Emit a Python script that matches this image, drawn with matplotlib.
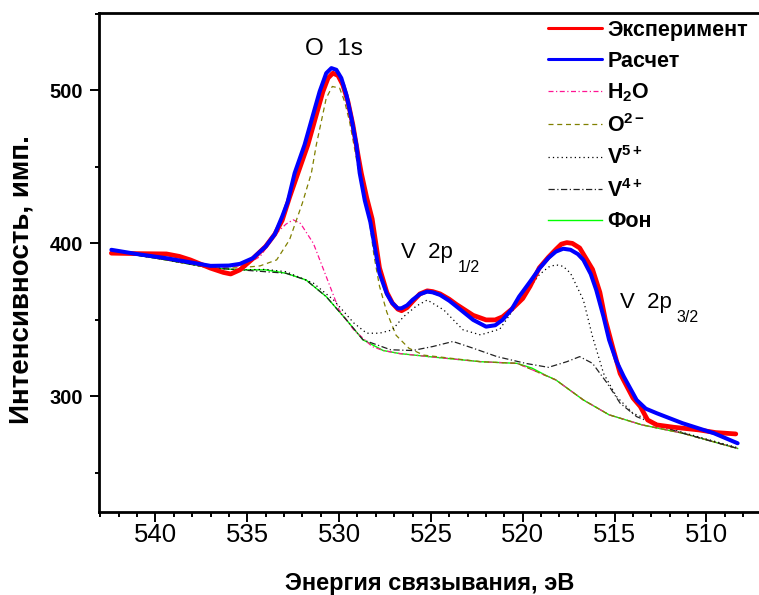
import matplotlib
matplotlib.use('Agg')
import matplotlib.pyplot as plt
from matplotlib.ticker import MultipleLocator

# ============================================================
# Data
# ============================================================

# Experiment (red)
exp_e = [542.4, 541.0, 539.4, 538.7, 538.1, 537.0, 536.3, 535.9, 535.4, 534.7,
         534.0, 533.5, 533.1, 532.7, 532.24, 531.7, 531.24, 530.88, 530.6, 530.34,
         530.06, 529.8, 529.52, 529.25, 528.97, 528.79, 528.5, 528.2, 527.8, 527.4,
         527.1, 526.8, 526.6, 526.3, 526.0, 525.6, 525.2, 524.9, 524.5, 524.0,
         523.6, 522.7, 522.0, 521.5, 521.1, 520.6, 520.0, 519.6, 519.1, 518.6,
         518.2, 517.9, 517.6, 517.3, 516.9, 516.6, 516.2, 515.8, 515.5, 515.1,
         514.7, 514.0, 513.6, 513.2, 512.7, 511.8, 510.4, 509.5, 508.4]
exp_i = [393.6, 393.3, 393.1, 391.5, 389.2, 383.8, 381.0, 380.0, 382.7, 390.0,
         398.0, 406.0, 415.0, 430.0, 445.9, 464.4, 484.0, 499.2, 508.0, 511.2,
         509.7, 503.6, 492.7, 477.5, 457.8, 445.9, 430.0, 416.0, 384.0, 368.0,
         361.0, 357.0, 356.0, 358.0, 362.0, 367.0, 369.0, 368.5, 367.0, 363.5,
         360.0, 353.0, 350.0, 350.0, 352.0, 357.0, 364.0, 372.0, 384.0, 391.0,
         396.0, 399.5, 400.5, 400.0, 397.0, 391.0, 383.0, 368.0, 350.0, 332.0,
         315.0, 299.0, 293.4, 284.6, 281.4, 279.9, 278.1, 276.4, 275.5]

# Fit (blue)
fit_e = [542.4, 541.0, 539.4, 537.0, 536.0, 535.4, 534.7, 534.0, 533.5, 533.1,
         532.8, 532.42, 531.88, 531.42, 531.06, 530.7, 530.42, 530.15, 529.88, 529.6,
         529.33, 529.06, 528.88, 528.6, 528.3, 527.8, 527.4, 527.1, 526.8, 526.6,
         526.3, 526.0, 525.6, 525.2, 524.9, 524.5, 524.0, 523.6, 522.7, 522.0,
         521.5, 521.1, 520.6, 520.2, 519.6, 519.1, 518.6, 518.2, 517.8, 517.4,
         517.0, 516.7, 516.3, 516.0, 515.6, 515.3, 514.9, 514.5, 513.8, 513.3,
         512.7, 511.3, 509.6, 508.3]
fit_i = [395.8, 393.0, 390.3, 385.3, 385.5, 386.6, 390.3, 397.9, 406.0, 417.5,
         427.0, 445.9, 464.4, 484.0, 499.2, 511.2, 514.5, 513.4, 508.0, 497.0,
         481.8, 464.4, 446.0, 428.0, 414.0, 380.5, 367.0, 360.9, 357.5, 357.6,
         359.5, 363.1, 366.8, 368.5, 368.0, 366.3, 362.5, 358.7, 350.0, 345.6,
         346.5, 350.0, 357.0, 365.2, 375.0, 383.5, 390.5, 394.6, 396.5, 395.8,
         393.0, 389.2, 380.0, 369.6, 352.0, 337.0, 323.0, 313.0, 297.7, 292.0,
         289.0, 282.5, 276.0, 269.4]

# H2O component
h2o_e = [542.4, 539.4, 537.0, 535.2, 534.3, 533.4, 532.9, 532.5, 532.1, 531.4,
         530.7, 530.0, 529.2, 528.2, 527.6, 526.7, 525.1, 522.3, 520.3, 518.2,
         516.7, 515.3, 513.5, 511.3, 508.3]
h2o_i = [395.0, 389.2, 384.0, 385.3, 391.4, 406.7, 412.5, 415.4, 413.0, 400.0,
         378.3, 356.5, 343.5, 332.6, 330.0, 328.0, 326.0, 322.7, 321.6, 310.8,
         297.7, 288.0, 281.4, 276.0, 266.0]

# O2- component
o2_e = [542.4, 539.4, 537.0, 535.4, 534.3, 533.4, 532.7, 532.0, 531.51, 531.24,
        530.97, 530.7, 530.37, 529.97, 529.7, 529.43, 529.16, 528.97, 528.5, 528.1,
        527.8, 527.4, 526.9, 526.2, 525.4, 522.3, 520.3, 518.2, 516.7, 515.3,
        513.5, 511.3, 508.3]
o2_i = [395.0, 389.2, 384.0, 384.0, 385.3, 389.2, 402.3, 426.3, 445.9, 464.4,
        479.6, 494.9, 502.5, 501.4, 492.7, 479.6, 462.2, 449.2, 428.0, 392.0,
        372.0, 355.0, 340.0, 331.5, 327.0, 322.7, 321.6, 310.8, 297.7, 288.0,
        281.4, 276.0, 266.0]

# V5+ component
v5_e = [542.4, 539.4, 537.0, 535.4, 534.0, 532.9, 531.4, 530.3, 529.2, 528.5,
        527.8, 527.1, 526.5, 525.8, 525.2, 524.3, 523.25, 522.3, 521.25, 520.2,
        519.1, 518.6, 518.2, 517.8, 517.4, 516.7, 516.2, 515.6, 514.9, 514.0,
        512.7, 511.3, 508.3]
v5_i = [395.0, 389.2, 384.0, 382.7, 383.0, 381.5, 374.0, 363.0, 348.0, 341.3,
        341.3, 343.5, 352.0, 359.0, 363.0, 356.5, 343.5, 340.2, 344.0, 362.0,
        379.5, 384.5, 386.0, 385.0, 380.5, 363.0, 339.0, 315.0, 300.0, 289.0,
        282.5, 276.5, 266.5]

# V4+ component
v4_e = [542.4, 539.4, 537.0, 535.4, 532.9, 531.8, 530.7, 529.6, 528.7, 527.2,
        526.0, 524.9, 523.8, 522.7, 521.4, 519.8, 518.6, 517.6, 516.9, 516.2,
        515.4, 514.7, 513.8, 512.7, 511.3, 508.3]
v4_i = [395.0, 389.2, 384.0, 382.7, 380.5, 376.1, 365.2, 350.0, 337.0, 330.5,
        330.0, 332.6, 335.9, 331.5, 326.0, 321.5, 319.0, 322.7, 326.0, 321.6,
        308.6, 295.6, 286.8, 281.4, 276.0, 266.0]

# Background (green)
bg_e = [542.4, 539.4, 537.0, 535.4, 534.0, 532.9, 531.8, 530.7, 529.6, 528.7,
        527.6, 526.7, 525.1, 522.3, 520.3, 519.5, 518.7, 518.2, 516.7, 515.3,
        513.5, 511.3, 508.3]
bg_i = [395.0, 389.2, 384.0, 382.7, 382.7, 380.5, 376.1, 365.2, 350.0, 337.0,
        330.0, 328.0, 326.0, 322.7, 321.6, 318.5, 313.5, 310.8, 297.7, 288.0,
        281.4, 276.0, 266.0]

labels = ['Эксперимент', 'Расчет', r'$\mathbf{H_2O}$', r'$\mathbf{O^{2-}}$',
          r'$\mathbf{V^{5+}}$', r'$\mathbf{V^{4+}}$', 'Фон']

# ============================================================
# Style
# ============================================================
plt.rcParams.update({
    'font.family': 'Liberation Sans',
    'mathtext.fontset': 'custom',
    'mathtext.rm': 'Liberation Sans',
    'mathtext.it': 'Liberation Sans:italic',
    'mathtext.bf': 'Liberation Sans:bold',
    'axes.linewidth': 2.0,
})

fig = plt.figure(figsize=(7.59, 5.95), dpi=100)
W, H = 759.0, 595.0
# axes runs past the right edge (the reference is cropped there)
ax = fig.add_axes([98.5 / W, (H - 512) / H, 672.2 / W, 499.0 / H])

l_bg, = ax.plot(bg_e, bg_i, color='#00ff00', lw=1.0, zorder=2)
l_h2o, = ax.plot(h2o_e, h2o_i, color='#ff1493', lw=0.9,
                 linestyle=(0, (4, 2, 1, 2)), zorder=3)
l_o2, = ax.plot(o2_e, o2_i, color='#808000', lw=0.9,
                linestyle=(0, (4, 3)), zorder=3)
l_v5, = ax.plot(v5_e, v5_i, color='black', lw=0.9,
                linestyle=(0, (1, 2.5)), zorder=3)
l_v4, = ax.plot(v4_e, v4_i, color='#222222', lw=0.9,
                linestyle=(0, (5, 2, 1, 2)), zorder=3)
l_exp, = ax.plot(exp_e, exp_i, color='#ff0000', lw=3.4, zorder=4,
                 solid_capstyle='round', solid_joinstyle='round')
l_fit, = ax.plot(fit_e, fit_i, color='#0000ff', lw=2.9, zorder=5,
                 solid_capstyle='round', solid_joinstyle='round')

ax.set_xlim(543.1, 506.5)
ax.set_ylim(224.5, 550.5)

ax.spines['right'].set_visible(False)
ax.xaxis.set_major_locator(MultipleLocator(5))
ax.xaxis.set_minor_locator(MultipleLocator(1))
ax.yaxis.set_major_locator(MultipleLocator(100))
ax.yaxis.set_minor_locator(MultipleLocator(50))
ax.tick_params(axis='x', which='major', direction='out', length=7.5, width=1.4,
               labelsize=18.5, pad=0.5, top=False)
ax.tick_params(axis='x', which='minor', direction='out', length=3.8, width=1.4,
               top=False)
ax.tick_params(axis='y', which='major', direction='out', length=6.3, width=1.4,
               labelsize=14.5, pad=5, right=False)
ax.tick_params(axis='y', which='minor', direction='out', length=3.2, width=1.4,
               right=False)
for lab in ax.get_yticklabels():
    lab.set_fontweight('bold')

ax.set_xlabel('Энергия связывания, эВ', fontsize=17, fontweight='bold',
              va='top')
ax.xaxis.set_label_coords(0.473 * 700.0 / 672.2, -0.12)
ax.set_ylabel('Интенсивность, имп.', fontsize=20, fontweight='bold',
              va='bottom')
ax.yaxis.set_label_coords(-0.092 * 700.0 / 672.2, 0.465)

# peak annotations
ax.text(531.88, 523.2, 'O  1s', fontsize=17.5, ha='left', va='baseline')
ax.text(526.61, 390.3, 'V  2p', fontsize=16, ha='left', va='baseline')
ax.text(523.55, 381.6, '1/2', fontsize=11.5, ha='left', va='baseline')
ax.text(514.73, 357.6, 'V  2p', fontsize=16, ha='left', va='baseline')
ax.text(511.64, 348.9, '3/2', fontsize=11.5, ha='left', va='baseline')

leg = ax.legend([l_exp, l_fit, l_h2o, l_o2, l_v5, l_v4, l_bg], labels,
                loc='upper left', bbox_to_anchor=(548.0 / W, 1 - 20.0 / H),
                bbox_transform=fig.transFigure, frameon=False,
                prop={'family': 'Liberation Sans', 'weight': 'bold', 'size': 15.5},
                handlelength=2.5, handletextpad=0.25, labelspacing=0.45,
                borderpad=0, borderaxespad=0)
for ln in leg.get_lines()[:2]:
    ln.set_linewidth(2.2)

fig.savefig('out.png', dpi=100)
